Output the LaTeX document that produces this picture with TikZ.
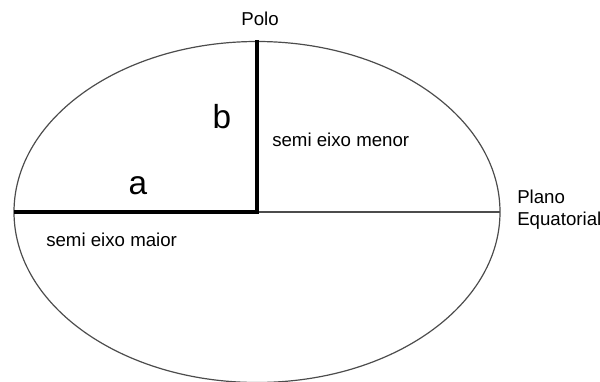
\documentclass[tikz,border=0pt]{standalone}
\usepackage{fontspec}
\setmainfont{Liberation Sans}
\usetikzlibrary{positioning, calc}

\tikzset{
  eixo/.style={line width=2.3pt, black},
  fino/.style={line width=0.9pt, black!70},
  rotulo/.style={font=\fontsize{14}{16}\selectfont, inner sep=0pt},
  letra/.style={font=\fontsize{25}{28}\selectfont, inner sep=0pt}
}

\begin{document}
\begin{tikzpicture}[x=0.75pt, y=-0.75pt]
  \useasboundingbox (0,0) rectangle (600,382);
  % pontos do elipsoide
  \coordinate (centro) at (257,212);
  \coordinate (polo) at (257,40);
  \coordinate (esq) at (14,212);
  \coordinate (dir) at (500,212);
  \draw[fino] (centro) ellipse [x radius=243, y radius=170.5];
  \draw[fino] (centro) -- (dir);
  \draw[eixo, line join=miter] (esq) -- (centro) -- (polo);
  % textos
  \node[rotulo] (tpolo) at (260,19) {Polo};
  \node[letra] (tb) at (222,117) {b};
  \node[letra] (ta) at (138,186) {a};
  \node[rotulo, anchor=west] (tmenor) at (272,140) {semi eixo menor};
  \node[rotulo, anchor=west] (tmaior) at (46,240) {semi eixo maior};
  \node[rotulo, anchor=west] (tplano) at (517,197) {Plano};
  \node[rotulo, anchor=west] (tequat) at (517,221) {Equatorial};
\end{tikzpicture}
\end{document}
